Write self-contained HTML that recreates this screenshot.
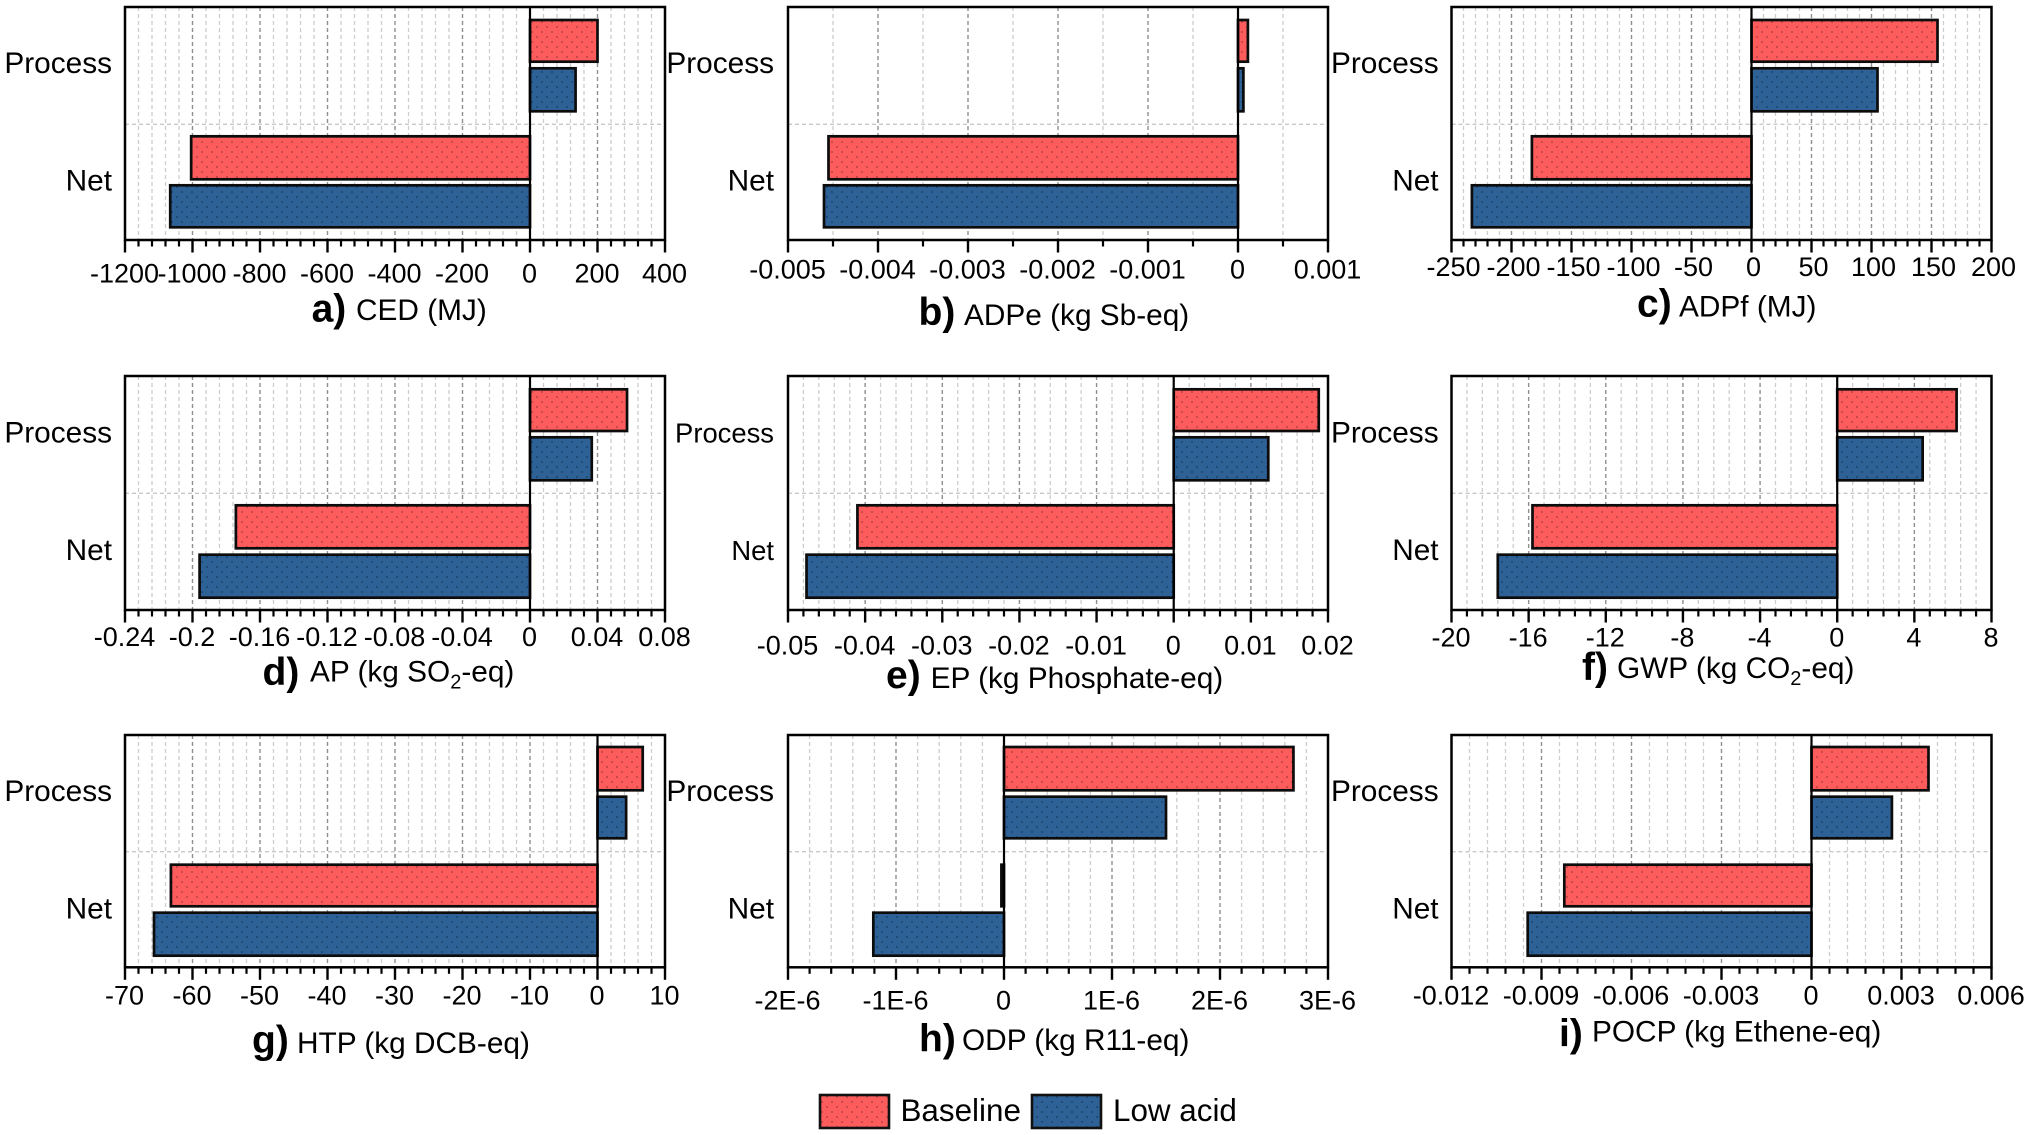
<!DOCTYPE html>
<html lang="en">
<head>
<meta charset="utf-8">
<title>Life cycle impact comparison</title>
<style>
html,body{margin:0;padding:0;background:#fff;width:2030px;height:1135px;overflow:hidden}
svg{display:block}
text{font-family:"Liberation Sans",Arial,sans-serif;fill:#000}
</style>
</head>
<body>
<svg id="chart" xmlns="http://www.w3.org/2000/svg" width="2030" height="1135" viewBox="0 0 2030 1135">
  <defs>
    <pattern id="dots-red" width="10" height="10" patternUnits="userSpaceOnUse">
      <rect width="10" height="10" fill="#fd5c5c"/>
      <circle cx="2" cy="2" r="0.9" fill="#a83a3c"/>
      <circle cx="7" cy="7" r="0.9" fill="#a83a3c"/>
    </pattern>
    <pattern id="dots-blue" width="10" height="10" patternUnits="userSpaceOnUse">
      <rect width="10" height="10" fill="#2e6296"/>
      <circle cx="2" cy="2" r="0.9" fill="#173c63"/>
      <circle cx="7" cy="7" r="0.9" fill="#173c63"/>
    </pattern>
  </defs>
  <rect width="2030" height="1135" fill="#fff"/>
  <g id="panels"></g>
  <g>
    <g>
      <rect x="820" y="1095" width="69" height="33" fill="url(#dots-red)" stroke="#111" stroke-width="2.6"/>
      <text x="900.5" y="1121" font-size="31.4">Baseline</text>
    </g>
    <g>
      <rect x="1032" y="1095" width="69" height="33" fill="url(#dots-blue)" stroke="#111" stroke-width="2.6"/>
      <text x="1113" y="1121" font-size="31.4">Low acid</text>
    </g>
  </g>
</svg>
<script>
// ---- chart data ----
const categories = ['Process', 'Net'];
const panelIds = ['ced', 'adpe', 'adpf', 'ap', 'ep', 'gwp', 'htp', 'odp', 'pocp'];
const panelLetters = ['a)', 'b)', 'c)', 'd)', 'e)', 'f)', 'g)', 'h)', 'i)'];
const panelTitles = ['CED (MJ)', 'ADPe (kg Sb-eq)', 'ADPf (MJ)', 'AP (kg SO_2-eq)', 'EP (kg Phosphate-eq)', 'GWP (kg CO_2-eq)', 'HTP (kg DCB-eq)', 'ODP (kg R11-eq)', 'POCP (kg Ethene-eq)'];
const baselineValues = [
  [200, -1004],
  [0.00011, -0.00455],
  [155, -183],
  [0.0575, -0.1743],
  [0.0188, -0.041],
  [6.19, -15.8],
  [6.7, -63.2],
  [2.68e-6, -0.024e-6],
  [0.0039, -0.00824]
];
const lowAcidValues = [
  [135, -1066],
  [0.00006, -0.0046],
  [105, -233],
  [0.0366, -0.1958],
  [0.01226, -0.0476],
  [4.43, -17.6],
  [4.24, -65.7],
  [1.5e-6, -1.21e-6],
  [0.00268, -0.00946]
];
const tickLabels = [
  ['-1200', '-1000', '-800', '-600', '-400', '-200', '0', '200', '400'],
  ['-0.005', '-0.004', '-0.003', '-0.002', '-0.001', '0', '0.001'],
  ['-250', '-200', '-150', '-100', '-50', '0', '50', '100', '150', '200'],
  ['-0.24', '-0.2', '-0.16', '-0.12', '-0.08', '-0.04', '0', '0.04', '0.08'],
  ['-0.05', '-0.04', '-0.03', '-0.02', '-0.01', '0', '0.01', '0.02'],
  ['-20', '-16', '-12', '-8', '-4', '0', '4', '8'],
  ['-70', '-60', '-50', '-40', '-30', '-20', '-10', '0', '10'],
  ['-2E-6', '-1E-6', '0', '1E-6', '2E-6', '3E-6'],
  ['-0.012', '-0.009', '-0.006', '-0.003', '0', '0.003', '0.006']
];
const minorDivisions = [5, 2, 5, 5, 5, 5, 5, 5, 5];

// ---- layout (not data) ----
const columnLeft = [125, 788, 1451.5];
const panelWidth = 540;
const rowLayout = [
  {top: 7, bottom: 240, mid: 124.3, bands: [[20, 61.7], [68.3, 111.3], [136.3, 179.3], [185.3, 227.3]], labelY: [73, 190.7]},
  {top: 376, bottom: 610, mid: 493.3, bands: [[389.3, 431], [437.3, 480.3], [505.3, 548.3], [554.7, 597.7]], labelY: [442.3, 560]},
  {top: 735, bottom: 967.3, mid: 851.7, bands: [[747, 790.3], [796.7, 838.3], [864.7, 906.3], [912.7, 955.7]], labelY: [801, 918.3]}
];
const labelRight = [112, 774, 1438.6];
const categoryFontSize = [29.8, 29.8, 29.8, 29.8, 27.4, 29.8, 29.8, 29.8, 29.8];
const tickBaseline = [282.7, 278.3, 276, 646, 654.7, 646.7, 1004.3, 1009.3, 1004.3];
const tickLabelShift = [-0.5, -0.5, 2, -0.5, -0.5, -0.5, -0.5, -0.5, -0.5];
const letterPlacement = [[311.6, 321.7], [918.5, 325], [1637, 316.7], [262.5, 685], [886, 688], [1582, 680], [252, 1053], [919, 1051.7], [1559, 1046.7]];
const titlePlacement = [[356, 320], [964, 325], [1679, 316.7], [310, 681.7], [930.6, 688], [1617, 678], [297, 1053], [962, 1050], [1592, 1041.7]];

const SVG_NS = 'http://www.w3.org/2000/svg';
const panelsRoot = document.getElementById('panels');

function make(tag, attrs, parent) {
  const el = document.createElementNS(SVG_NS, tag);
  Object.keys(attrs).forEach(function (k) { el.setAttribute(k, attrs[k]); });
  parent.appendChild(el);
  return el;
}

function drawPanel(i) {
  const id = panelIds[i];
  const col = i % 3;
  const row = rowLayout[Math.floor(i / 3)];
  const left = columnLeft[col];
  const right = left + panelWidth;
  const ticks = tickLabels[i].map(parseFloat);
  const domainMin = ticks[0];
  const domainMax = ticks[ticks.length - 1];
  const xScale = function (v) {
    return left + (v - domainMin) / (domainMax - domainMin) * panelWidth;
  };
  const zeroX = xScale(0);

  const g = make('g', {}, panelsRoot);
  
  

  // horizontal separator
  const hGrid = make('line', {x1: left, x2: right, y1: row.mid, y2: row.mid, stroke: '#c8c8c8', 'stroke-width': 1.3, 'stroke-dasharray': '4 3'}, g);
  
  

  // vertical grid and axis ticks
  const axisG = make('g', {}, g);
  
  
  const divisions = minorDivisions[i];
  for (let t = 0; t < ticks.length; t++) {
    const x = xScale(ticks[t]);
    if (t > 0 && t < ticks.length - 1 && ticks[t] !== 0) {
      const grid = make('line', {x1: x, x2: x, y1: row.top, y2: row.bottom, stroke: '#8f8f8f', 'stroke-width': 1.4, 'stroke-dasharray': '4 3'}, axisG);
      
      
    }
    const tick = make('line', {x1: x, x2: x, y1: row.bottom, y2: row.bottom + 12.5, stroke: '#000', 'stroke-width': 2.4}, axisG);
    
    

    const lab = make('text', {x: x + tickLabelShift[i], y: tickBaseline[i], 'font-size': 27, 'text-anchor': 'middle'}, axisG);
    lab.textContent = tickLabels[i][t];
    
    

    if (t < ticks.length - 1) {
      const step = (ticks[t + 1] - ticks[t]) / divisions;
      for (let m = 1; m < divisions; m++) {
        const mx = xScale(ticks[t] + step * m);
        const mg = make('line', {x1: mx, x2: mx, y1: row.top, y2: row.bottom, stroke: '#cdcdcd', 'stroke-width': 1.3, 'stroke-dasharray': '4 3'}, axisG);
        
        
        const mt = make('line', {x1: mx, x2: mx, y1: row.bottom, y2: row.bottom + 6.5, stroke: '#000', 'stroke-width': 2.2}, axisG);
        
        
      }
    }
  }

  // bars: Process baseline, Process low acid, Net baseline, Net low acid
  const barSeries = [
    [baselineValues[i][0], 'dots-red', 'process-baseline'],
    [lowAcidValues[i][0], 'dots-blue', 'process-low-acid'],
    [baselineValues[i][1], 'dots-red', 'net-baseline'],
    [lowAcidValues[i][1], 'dots-blue', 'net-low-acid']
  ];
  barSeries.forEach(function (b, k) {
    const xv = xScale(b[0]);
    const band = row.bands[k];
    const bar = make('rect', {
      x: Math.min(xv, zeroX),
      y: band[0],
      width: Math.abs(xv - zeroX),
      height: band[1] - band[0],
      fill: 'url(#' + b[1] + ')',
      stroke: '#0c0c0c',
      'stroke-width': 2.7
    }, g);
    
    
  });

  // zero line and frame
  const zero = make('line', {x1: zeroX, x2: zeroX, y1: row.top, y2: row.bottom, stroke: '#000', 'stroke-width': 2.2}, g);
  
  
  const frame = make('rect', {x: left, y: row.top, width: panelWidth, height: row.bottom - row.top, fill: 'none', stroke: '#000', 'stroke-width': 2.5}, g);
  
  

  // category labels
  categories.forEach(function (c, k) {
    const cat = make('text', {x: labelRight[col], y: row.labelY[k], 'font-size': categoryFontSize[i], 'text-anchor': 'end'}, g);
    cat.textContent = c;
    
    
  });

  // axis title
  const letter = make('text', {x: letterPlacement[i][0], y: letterPlacement[i][1], 'font-size': 39, 'font-weight': 'bold'}, g);
  letter.textContent = panelLetters[i];
  
  

  const title = make('text', {x: titlePlacement[i][0], y: titlePlacement[i][1], 'font-size': 29.8}, g);
  
  
  const parts = panelTitles[i].split('_');
  if (parts.length === 1) {
    title.textContent = parts[0];
  } else {
    make('tspan', {}, title).textContent = parts[0];
    make('tspan', {dy: 7, 'font-size': 20}, title).textContent = parts[1].charAt(0);
    make('tspan', {dy: -7}, title).textContent = parts[1].slice(1);
  }
}

for (let i = 0; i < panelIds.length; i++) {
  drawPanel(i);
}
</script>
</body>
</html>
